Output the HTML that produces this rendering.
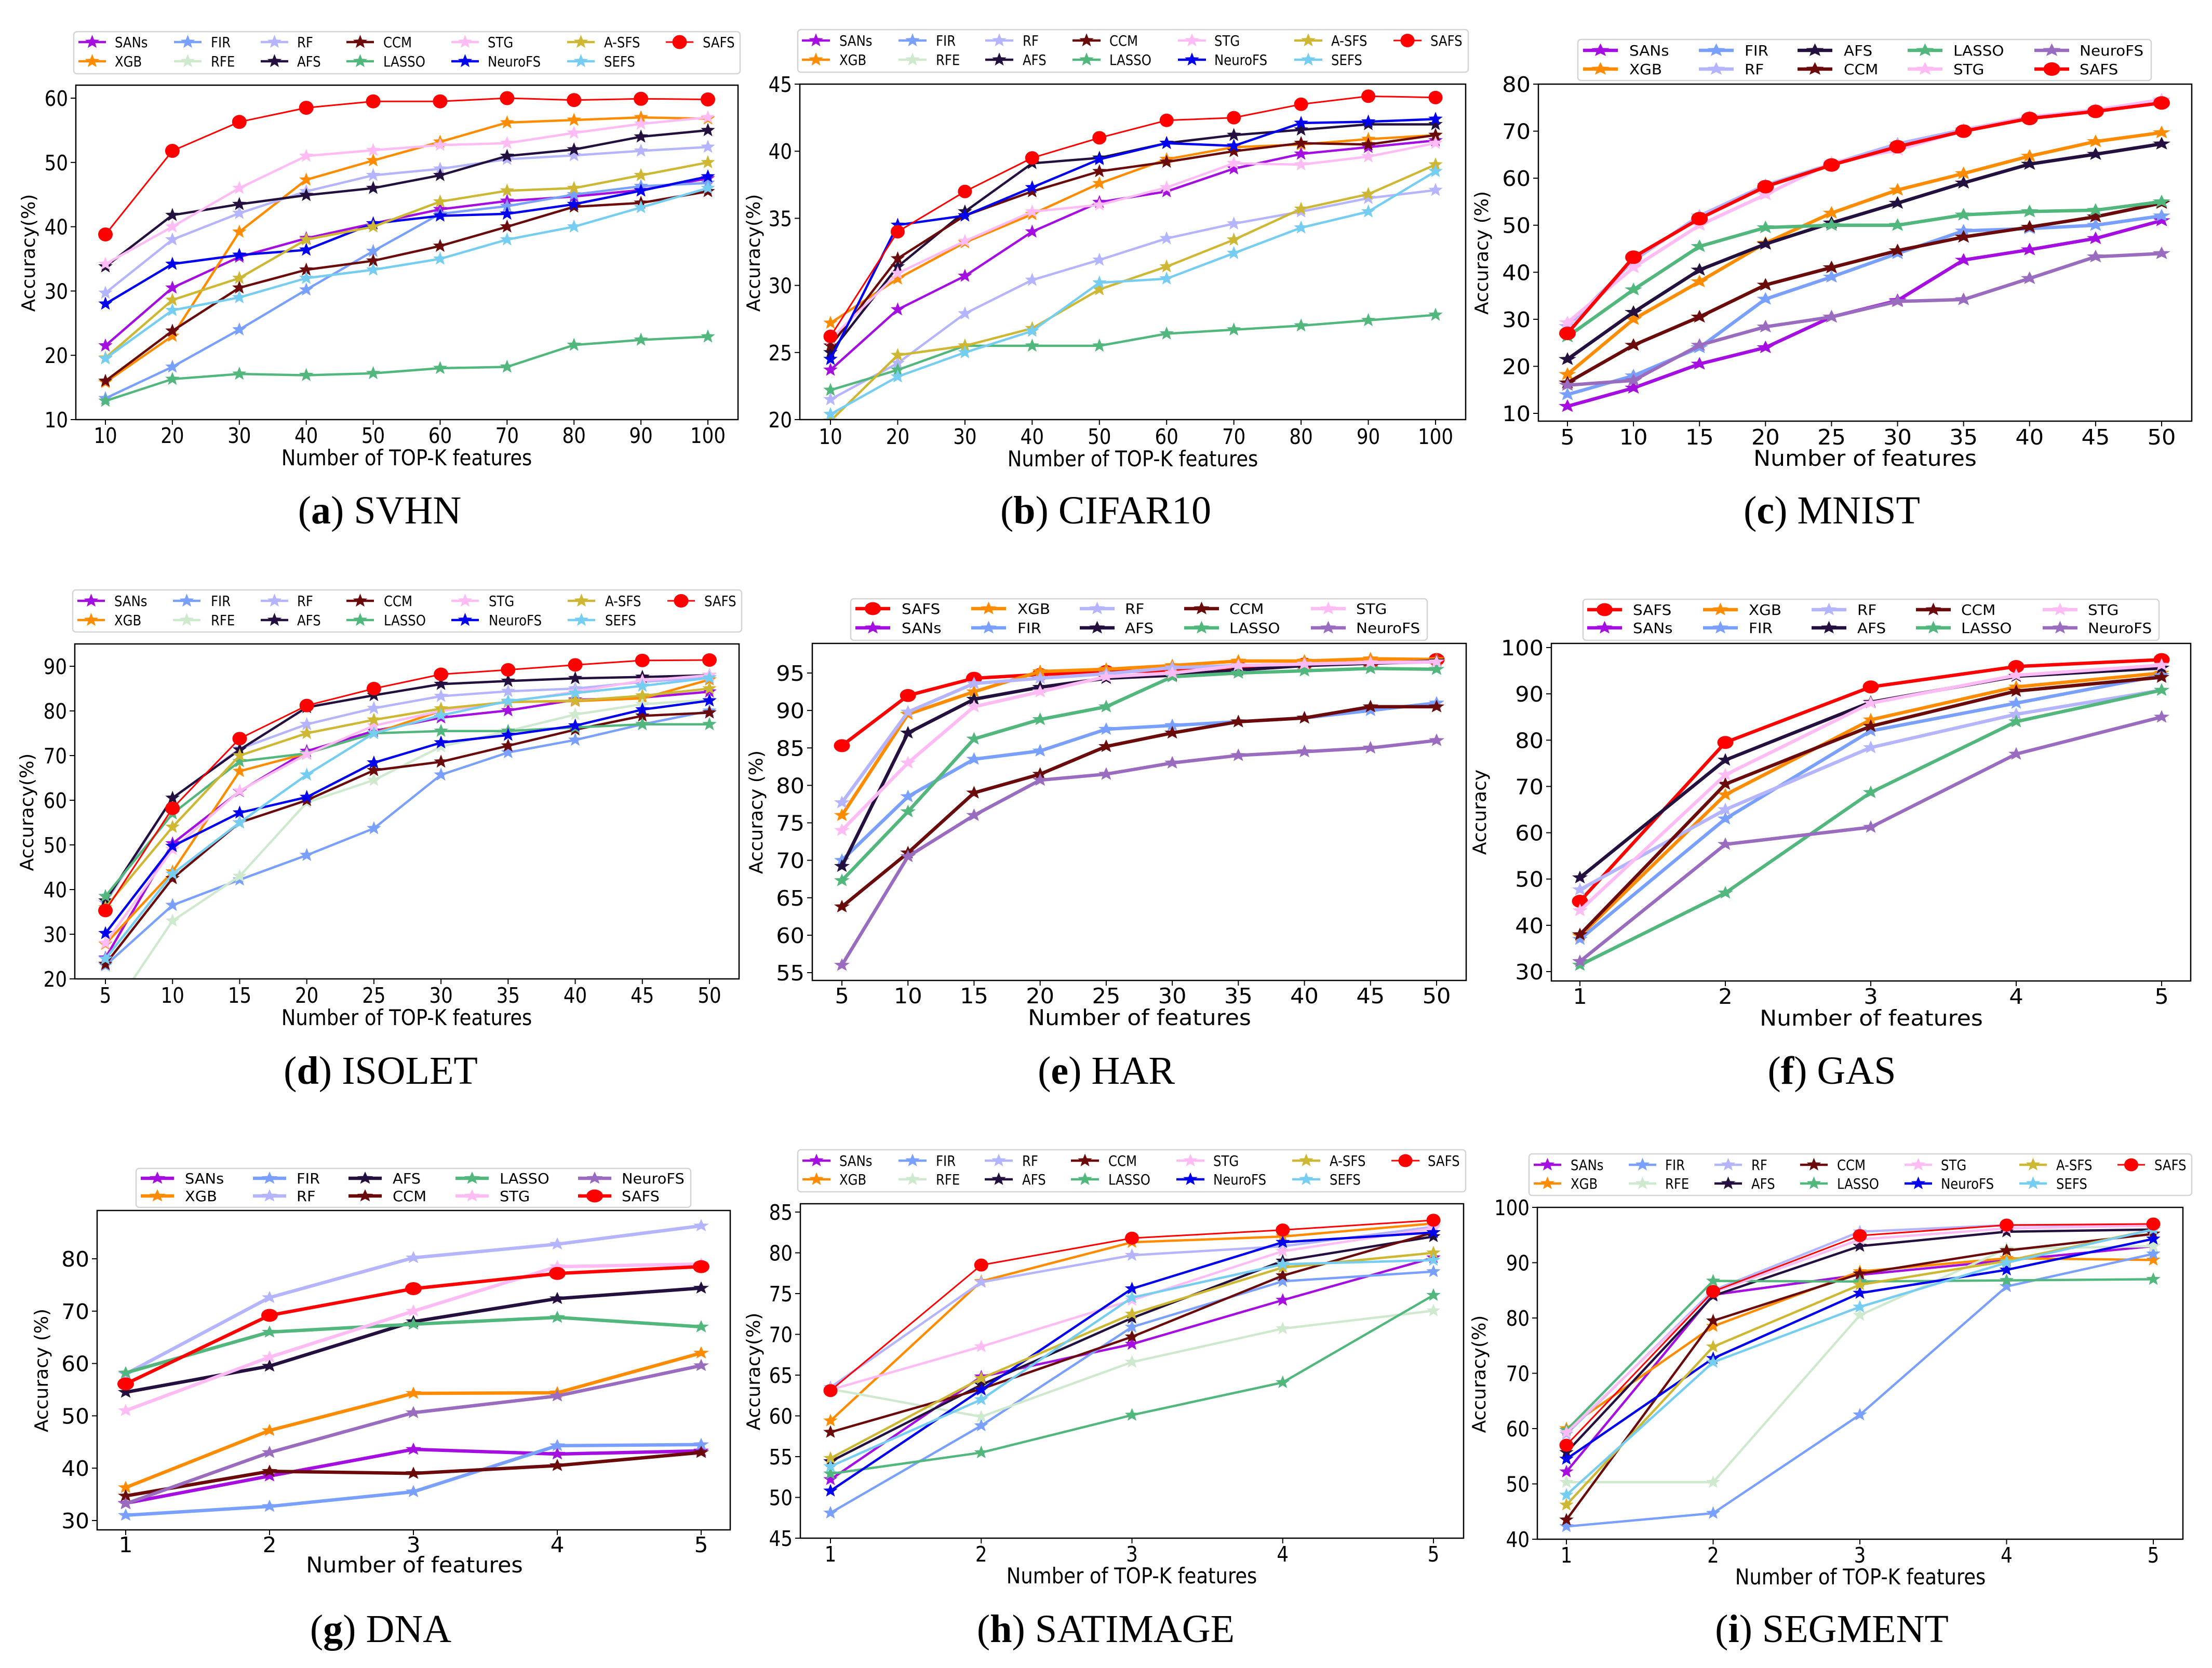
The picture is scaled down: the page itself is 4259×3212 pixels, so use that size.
<!DOCTYPE html>
<html>
<head>
<meta charset="utf-8">
<title>Accuracy versus number of features on nine datasets</title>
<style>
html,body{margin:0;padding:0;background:#fff;}
svg{display:block;}
text{font-family:"DejaVu Sans","Liberation Sans",sans-serif;fill:#000;}
.cap{font-family:"Liberation Serif",serif;font-size:76px;}
.ax{font-size:42px;}
.yl{font-size:36px;}
</style>
</head>
<body>
<svg id="figure" xmlns="http://www.w3.org/2000/svg" width="4259" height="3212" viewBox="0 0 4259 3212">
<rect x="0" y="0" width="4259" height="3212" fill="#fff"/>
<g id="plots"></g>
<text class="ax" text-anchor="middle" transform="translate(783,896) scale(.88,1)">Number of TOP-K features</text>
<text class="yl" text-anchor="middle" transform="translate(67,487) rotate(-90)">Accuracy(%)</text>
<text class="cap" text-anchor="middle" x="731" y="1008">(<tspan font-weight="bold">a</tspan>) SVHN</text>
<text class="ax" text-anchor="middle" transform="translate(2181,898) scale(.88,1)">Number of TOP-K features</text>
<text class="yl" text-anchor="middle" transform="translate(1463,487) rotate(-90)">Accuracy(%)</text>
<text class="cap" text-anchor="middle" x="2129" y="1008">(<tspan font-weight="bold">b</tspan>) CIFAR10</text>
<text class="ax" text-anchor="middle" transform="translate(3591,897) scale(1.05,1)">Number of features</text>
<text class="yl" text-anchor="middle" transform="translate(2865,487) rotate(-90)">Accuracy (%)</text>
<text class="cap" text-anchor="middle" x="3527" y="1008">(<tspan font-weight="bold">c</tspan>) MNIST</text>
<text class="ax" text-anchor="middle" transform="translate(783,1974) scale(.88,1)">Number of TOP-K features</text>
<text class="yl" text-anchor="middle" transform="translate(64,1564) rotate(-90)">Accuracy(%)</text>
<text class="cap" text-anchor="middle" x="733" y="2087">(<tspan font-weight="bold">d</tspan>) ISOLET</text>
<text class="ax" text-anchor="middle" transform="translate(2194,1974) scale(1.05,1)">Number of features</text>
<text class="yl" text-anchor="middle" transform="translate(1468,1564) rotate(-90)">Accuracy (%)</text>
<text class="cap" text-anchor="middle" x="2130" y="2087">(<tspan font-weight="bold">e</tspan>) HAR</text>
<text class="ax" text-anchor="middle" transform="translate(3603,1975) scale(1.05,1)">Number of features</text>
<text class="yl" text-anchor="middle" transform="translate(2861,1564) rotate(-90)">Accuracy</text>
<text class="cap" text-anchor="middle" x="3527" y="2087">(<tspan font-weight="bold">f</tspan>) GAS</text>
<text class="ax" text-anchor="middle" transform="translate(798,3028) scale(1.02,1)">Number of features</text>
<text class="yl" text-anchor="middle" transform="translate(92,2639) rotate(-90)">Accuracy (%)</text>
<text class="cap" text-anchor="middle" x="733" y="3162">(<tspan font-weight="bold">g</tspan>) DNA</text>
<text class="ax" text-anchor="middle" transform="translate(2179,3049) scale(.88,1)">Number of TOP-K features</text>
<text class="yl" text-anchor="middle" transform="translate(1463,2641) rotate(-90)">Accuracy(%)</text>
<text class="cap" text-anchor="middle" x="2129" y="3162">(<tspan font-weight="bold">h</tspan>) SATIMAGE</text>
<text class="ax" text-anchor="middle" transform="translate(3582,3051) scale(.88,1)">Number of TOP-K features</text>
<text class="yl" text-anchor="middle" transform="translate(2860,2646) rotate(-90)">Accuracy(%)</text>
<text class="cap" text-anchor="middle" x="3527" y="3162">(<tspan font-weight="bold">i</tspan>) SEGMENT</text>
</svg>
<script>
// ---------- shared categories ----------
const topK100 = [10,20,30,40,50,60,70,80,90,100];
const topK50 = [5,10,15,20,25,30,35,40,45,50];
const topK5 = [1,2,3,4,5];

// ---------- tick labels ----------
const svhnYTicks = [10,20,30,40,50,60];
const cifarYTicks = [20,25,30,35,40,45];
const mnistYTicks = [10,20,30,40,50,60,70,80];
const isoletYTicks = [20,30,40,50,60,70,80,90];
const harYTicks = [55,60,65,70,75,80,85,90,95];
const gasYTicks = [30,40,50,60,70,80,90,100];
const dnaYTicks = [30,40,50,60,70,80];
const satYTicks = [45,50,55,60,65,70,75,80,85];
const segYTicks = [40,50,60,70,80,90,100];

// ---------- legend entries ----------
const legendFull = ['SANs','XGB','FIR','RFE','RF','AFS','CCM','LASSO','STG','NeuroFS','A-SFS','SEFS','SAFS'];
const legendShort = ['SANs','XGB','FIR','RF','AFS','CCM','LASSO','STG','NeuroFS','SAFS'];
const legendSafsFirst = ['SAFS','SANs','XGB','FIR','RF','AFS','CCM','LASSO','STG','NeuroFS'];

// ---------- (a) SVHN ----------
const svhnSANs = [21.5,30.5,35.3,38.2,40.5,42.7,44,44.7,45.7,47.5];
const svhnXGB = [15.8,23,39.2,47.3,50.3,53.2,56.2,56.6,57,56.8];
const svhnFIR = [13.3,18.2,24,30.2,36.2,42,43.2,45,46.3,46.8];
const svhnRF = [29.7,38,42.1,45.5,48,49,50.5,51.1,51.8,52.4];
const svhnAFS = [33.8,41.8,43.5,44.9,46,48,51,52,54,55];
const svhnCCM = [16,23.8,30.5,33.3,34.7,37,40,43.1,43.7,45.5];
const svhnLASSO = [12.9,16.3,17.1,16.9,17.2,18,18.2,21.6,22.4,22.9];
const svhnSTG = [34.2,40,46,51,51.9,52.7,53,54.6,56,57];
const svhnNeuroFS = [28,34.2,35.6,36.4,40.5,41.7,42,43.5,45.6,47.8];
const svhnASFS = [19.6,28.6,32,38,40,43.9,45.6,46,48,50];
const svhnSEFS = [19.5,27,29,32,33.3,35,38,40,43,46];
const svhnSAFS = [38.8,51.8,56.3,58.5,59.5,59.5,60,59.7,59.9,59.8];

// ---------- (b) CIFAR10 ----------
const cifarSANs = [23.7,28.2,30.7,34,36.2,37,38.7,39.8,40.3,40.8];
const cifarXGB = [27.2,30.5,33.2,35.3,37.6,39.4,40.3,40.5,40.9,41.2];
const cifarRF = [21.5,24.2,27.9,30.4,31.9,33.5,34.6,35.5,36.5,37.1];
const cifarAFS = [25,31.4,35.5,39.1,39.5,40.6,41.2,41.6,42,42];
const cifarCCM = [25.5,32,35.2,37,38.5,39.2,40,40.6,40.5,41.2];
const cifarLASSO = [22.2,23.7,25.5,25.5,25.5,26.4,26.7,27,27.4,27.8];
const cifarSTG = [26,30.9,33.3,35.5,36,37.3,39.1,39,39.6,40.6];
const cifarNeuroFS = [24.5,34.5,35.2,37.3,39.4,40.6,40.4,42.1,42.2,42.4];
const cifarASFS = [19.9,24.8,25.5,26.8,29.7,31.4,33.4,35.7,36.8,39];
const cifarSEFS = [20.4,23.2,25,26.6,30.2,30.5,32.4,34.3,35.5,38.5];
const cifarSAFS = [26.2,34,37,39.5,41,42.3,42.5,43.5,44.1,44];

// ---------- (c) MNIST ----------
const mnistSANs = [11.5,15.4,20.5,24,30.5,34,42.6,44.8,47.2,51];
const mnistXGB = [18.3,30,38,46.2,52.6,57.5,61,64.7,67.8,69.7];
const mnistFIR = [14,18,24,34.3,39,44,48.8,49.3,50,52];
const mnistRF = [28.5,42.5,52,58.5,63,67.3,70.3,73,74.5,76.5];
const mnistAFS = [21.5,31.5,40.5,46,50.5,54.7,59,63,65.1,67.3];
const mnistCCM = [16.5,24.5,30.5,37.3,41,44.6,47.5,49.6,51.8,54.7];
const mnistLASSO = [26.3,36.3,45.5,49.5,50,50,52.2,52.9,53.2,55];
const mnistSTG = [29.3,41,50,56.5,63.3,66,70.2,73,74.5,76.7];
const mnistNeuroFS = [16,17,24.5,28.4,30.5,33.8,34.2,38.7,43.3,44];
const mnistSAFS = [27,43.2,51.4,58.2,62.8,66.7,70,72.7,74.2,76];

// ---------- (d) ISOLET ----------
const isoletSANs = [24.7,50.3,62,71,75.5,78.5,80.1,82.5,83,84.3];
const isoletXGB = [27.8,44,66.5,70.5,75,80,82,82.2,82.8,87];
const isoletFIR = [23,36.5,42.2,47.7,53.7,65.7,70.7,73.5,77,80];
const isoletRFE = [10.7,33,43,59.5,64.5,72,75.5,79.2,81.5,82.5];
const isoletRF = [37,60.5,71.5,77,80.6,83.3,84.4,85,86.5,87.5];
const isoletAFS = [37.5,60.5,71.3,80.8,83.5,86,86.7,87.3,87.6,88];
const isoletCCM = [23.3,42.5,55,60,66.7,68.6,72.2,75.8,78.9,79.6];
const isoletLASSO = [38.5,57,68.7,70.5,75,75.5,75.5,76.3,77,77];
const isoletSTG = [28,49,62.1,70.3,76.7,80,82,84.3,86.8,88];
const isoletNeuroFS = [30.2,49.7,57.2,60.7,68.4,72.9,74.6,76.7,80.3,82.3];
const isoletASFS = [36,54,70,75,78,80.5,82,82.3,83.4,85];
const isoletSEFS = [24.5,43.5,55,65.7,75,79,82.2,84,85.6,87.4];
const isoletSAFS = [35.3,58.2,73.8,81.2,85,88.2,89.2,90.3,91.3,91.4];

// ---------- (e) HAR ----------
const harSAFS = [85.3,92,94.3,94.8,95.2,95.3,95.8,96.2,96.4,96.8];
const harXGB = [76,89.5,92.5,95.2,95.5,96,96.6,96.6,96.9,96.8];
const harFIR = [70,78.5,83.5,84.6,87.5,88,88.5,89,90,91];
const harRF = [77.7,89.8,93.6,94.3,94.9,95.7,96,96.2,96.3,96.5];
const harAFS = [69.2,87,91.5,93.1,94.3,94.7,95.4,96,96.3,96.6];
const harCCM = [63.8,71,79,81.5,85.2,87,88.5,89,90.5,90.5];
const harLASSO = [67.3,76.5,86.2,88.8,90.5,94.5,95,95.3,95.6,95.5];
const harSTG = [74,83,90.5,92.5,94.5,95,96,96.2,96.4,96.5];
const harNeuroFS = [56,70.5,76,80.7,81.5,83,84,84.5,85,86];

// ---------- (f) GAS ----------
const gasSAFS = [45.2,79.5,91.5,95.9,97.4];
const gasXGB = [37.7,68.2,84.4,91.5,94.5];
const gasFIR = [37,63,82,88,94];
const gasRF = [47.7,65,78.4,85.6,90.8];
const gasAFS = [50.3,75.7,88.2,93.8,95.6];
const gasCCM = [38,70.5,83,90.6,93.6];
const gasLASSO = [31.4,47,68.7,84,90.8];
const gasSTG = [43.2,72.5,88,94,96.2];
const gasNeuroFS = [32.2,57.5,61.2,77,85];

// ---------- (g) DNA ----------
const dnaSANs = [33.3,38.5,43.6,42.7,43.3];
const dnaXGB = [36.3,47.2,54.3,54.4,62];
const dnaFIR = [31,32.7,35.5,44.3,44.5];
const dnaRF = [58,72.6,80.2,82.8,86.3];
const dnaAFS = [54.5,59.5,68,72.4,74.4];
const dnaCCM = [34.7,39.4,39,40.5,43];
const dnaLASSO = [58.2,66,67.5,68.8,67];
const dnaSTG = [51,61.2,70,78.5,79];
const dnaNeuroFS = [33.2,43,50.6,53.8,59.6];
const dnaSAFS = [56.1,69.2,74.3,77.2,78.5];

// ---------- (h) SATIMAGE ----------
const satSANs = [52.2,64.8,68.8,74.2,79.4];
const satXGB = [59.4,76.5,81.3,82,83.6];
const satFIR = [48.1,58.8,70.9,76.5,77.7];
const satRFE = [63.3,59.9,66.6,70.7,72.9];
const satRF = [63.5,76.4,79.7,80.8,83.2];
const satAFS = [54.4,63.8,72,79,82];
const satCCM = [58,63.3,69.7,77.2,82.5];
const satLASSO = [52.9,55.5,60.1,64.1,74.8];
const satSTG = [63.2,68.5,74.2,80.2,83];
const satNeuroFS = [50.8,63.2,75.6,81.3,82.5];
const satASFS = [54.8,64.6,72.5,78.2,80];
const satSEFS = [53.8,62,74.5,78.6,79.1];
const satSAFS = [63.1,78.5,81.8,82.8,84];

// ---------- (i) SEGMENT ----------
const segSANs = [52.2,84.2,87.8,90.4,93];
const segXGB = [60,78.5,88.4,90.8,90.5];
const segFIR = [42.3,44.7,62.5,85.7,91.6];
const segRFE = [50.3,50.3,80.5,92.5,93];
const segRF = [59,85,95.6,96.8,96.7];
const segAFS = [55.7,84,93,95.6,96];
const segCCM = [43.5,79.5,88,92.2,95.2];
const segLASSO = [59.7,86.7,86.6,86.8,87];
const segSTG = [59.3,84.6,94.2,96.2,96.7];
const segNeuroFS = [54.5,72.7,84.5,88.7,94.3];
const segASFS = [46.2,74.8,86,90.3,96];
const segSEFS = [48,72,82,90,96];
const segSAFS = [57,84.8,94.9,96.8,97];

// ---------- styling ----------
const seriesColors = {SANs:'#a50ee0',XGB:'#ff8c00',FIR:'#7aa0ff',RFE:'#cfe9cf',RF:'#b4b4ff',AFS:'#24103f',CCM:'#6b0a0a',LASSO:'#52b77c',STG:'#ffbbf4','A-SFS':'#cdb733',SEFS:'#76cdf2',SAFS:'#ff0000'};
const BLUE = '#0000ee';
const PURPLE = '#9a6cc0';

// ---------- panel layout ----------
const panels = [
 {id:'svhn',cats:topK100,ticks:svhnYTicks,box:[146,164,1421,808],xp:[203,1363],yp:[808,189],tickY:838,sx:.87,lw:4.5,redLw:3,star:[14.5,14],dot:[14,13.5],neuro:BLUE,
  legend:legendFull,lbox:[142,61,1425,142],rows:[81,118],hx:[151,335,502,667,869,1092,1282],tx:[221,406,572,738,939,1163,1353],hl:53,
  data:{SANs:svhnSANs,XGB:svhnXGB,FIR:svhnFIR,RF:svhnRF,AFS:svhnAFS,CCM:svhnCCM,LASSO:svhnLASSO,STG:svhnSTG,NeuroFS:svhnNeuroFS,'A-SFS':svhnASFS,SEFS:svhnSEFS,SAFS:svhnSAFS}},
 {id:'cifar10',cats:topK100,ticks:cifarYTicks,box:[1540,162,2822,808],xp:[1599,2764],yp:[808,162],tickY:840,sx:.87,lw:4.5,redLw:3,star:[14.5,14],dot:[13.5,13],neuro:BLUE,
  legend:legendFull,lbox:[1536,57,2827,139],rows:[78,115],hx:[1544,1730,1897,2065,2268,2492,2683],tx:[1616,1802,1969,2136,2338,2563,2754],hl:54,
  data:{SANs:cifarSANs,XGB:cifarXGB,RF:cifarRF,AFS:cifarAFS,CCM:cifarCCM,LASSO:cifarLASSO,STG:cifarSTG,NeuroFS:cifarNeuroFS,'A-SFS':cifarASFS,SEFS:cifarSEFS,SAFS:cifarSAFS}},
 {id:'mnist',cats:topK50,ticks:mnistYTicks,box:[2962,162,4220,811],xp:[3018,4162],yp:[796,162],tickY:841,sx:1.05,lw:6.5,redLw:6.5,star:[18,13.5],dot:[16,13],neuro:PURPLE,
  legend:legendShort,lbox:[3038,76,4142,155],rows:[97,133],hx:[3048,3271,3461,3673,3917],tx:[3137,3359,3550,3761,4004],hl:67,
  data:{SANs:mnistSANs,XGB:mnistXGB,FIR:mnistFIR,RF:mnistRF,AFS:mnistAFS,CCM:mnistCCM,LASSO:mnistLASSO,STG:mnistSTG,NeuroFS:mnistNeuroFS,SAFS:mnistSAFS}},
 {id:'isolet',cats:topK50,ticks:isoletYTicks,box:[144,1240,1423,1885],xp:[203,1366],yp:[1885,1283],tickY:1916,sx:.87,lw:4.5,redLw:3,star:[14.5,14],dot:[14,13],neuro:BLUE,
  legend:legendFull,lbox:[140,1136,1428,1217],rows:[1157,1194],hx:[149,333,502,667,869,1093,1285],tx:[220,406,572,739,941,1165,1356],hl:53,
  data:{SANs:isoletSANs,XGB:isoletXGB,FIR:isoletFIR,RFE:isoletRFE,RF:isoletRF,AFS:isoletAFS,CCM:isoletCCM,LASSO:isoletLASSO,STG:isoletSTG,NeuroFS:isoletNeuroFS,'A-SFS':isoletASFS,SEFS:isoletSEFS,SAFS:isoletSAFS}},
 {id:'har',cats:topK50,ticks:harYTicks,box:[1564,1239,2823,1888],xp:[1621,2766],yp:[1873,1296],tickY:1917,sx:1.05,lw:6.5,redLw:6.5,star:[16,13.5],dot:[15.5,12.5],neuro:PURPLE,
  legend:legendSafsFirst,lbox:[1638,1153,2748,1233],rows:[1172,1209],hx:[1647,1870,2079,2280,2524],tx:[1736,1959,2166,2367,2611],hl:67,
  data:{SAFS:harSAFS,XGB:harXGB,FIR:harFIR,RF:harRF,AFS:harAFS,CCM:harCCM,LASSO:harLASSO,STG:harSTG,NeuroFS:harNeuroFS}},
 {id:'gas',cats:topK5,ticks:gasYTicks,box:[2987,1239,4218,1889],xp:[3042,4162],yp:[1871,1247],tickY:1918,sx:1.05,lw:6.5,redLw:6.5,star:[16,13.5],dot:[15.5,12.5],neuro:PURPLE,
  legend:legendSafsFirst,lbox:[3048,1154,4157,1233],rows:[1174,1209],hx:[3056,3279,3488,3689,3933],tx:[3144,3367,3576,3776,4020],hl:67,
  data:{SAFS:gasSAFS,XGB:gasXGB,FIR:gasFIR,RF:gasRF,AFS:gasAFS,CCM:gasCCM,LASSO:gasLASSO,STG:gasSTG,NeuroFS:gasNeuroFS}},
 {id:'dna',cats:topK5,ticks:dnaYTicks,box:[187,2331,1406,2946],xp:[242,1350],yp:[2928,2424],tickY:2974,sx:1.03,lw:6.5,redLw:6.5,star:[16,13],dot:[16,12.5],neuro:PURPLE,
  legend:legendShort,lbox:[262,2250,1330,2325],rows:[2269,2303],hx:[271,487,671,877,1113],tx:[356,571,756,962,1197],hl:64,
  data:{SANs:dnaSANs,XGB:dnaXGB,FIR:dnaFIR,RF:dnaRF,AFS:dnaAFS,CCM:dnaCCM,LASSO:dnaLASSO,STG:dnaSTG,NeuroFS:dnaNeuroFS,SAFS:dnaSAFS}},
 {id:'satimage',cats:topK5,ticks:satYTicks,box:[1541,2318,2818,2962],xp:[1599,2760],yp:[2962,2334],tickY:2992,sx:.87,lw:4.5,redLw:3,star:[14.5,13.5],dot:[13.5,12.5],neuro:BLUE,
  legend:legendFull,lbox:[1536,2214,2822,2295],rows:[2235,2271],hx:[1545,1730,1896,2062,2265,2488,2679],tx:[1616,1802,1968,2134,2336,2560,2749],hl:54,
  data:{SANs:satSANs,XGB:satXGB,FIR:satFIR,RFE:satRFE,RF:satRF,AFS:satAFS,CCM:satCCM,LASSO:satLASSO,STG:satSTG,NeuroFS:satNeuroFS,'A-SFS':satASFS,SEFS:satSEFS,SAFS:satSAFS}},
 {id:'segment',cats:topK5,ticks:segYTicks,box:[2960,2325,4203,2964],xp:[3016,4146],yp:[2964,2325],tickY:2994,sx:.87,lw:4.5,redLw:3,star:[14.5,13.5],dot:[13.5,12.5],neuro:BLUE,
  legend:legendFull,lbox:[2944,2222,4220,2302],rows:[2243,2279],hx:[2953,3136,3301,3466,3667,3888,4077],tx:[3024,3206,3372,3537,3737,3959,4148],hl:53,
  data:{SANs:segSANs,XGB:segXGB,FIR:segFIR,RFE:segRFE,RF:segRF,AFS:segAFS,CCM:segCCM,LASSO:segLASSO,STG:segSTG,NeuroFS:segNeuroFS,'A-SFS':segASFS,SEFS:segSEFS,SAFS:segSAFS}}
];

const NS = 'http://www.w3.org/2000/svg';
const root = document.getElementById('plots');

function node(tag, parent, attrs) {
  const el = document.createElementNS(NS, tag);
  for (const k in attrs) el.setAttribute(k, attrs[k]);
  parent.appendChild(el);
  return el;
}

function starPoints(cx, cy, rx, ry) {
  const pts = [];
  for (let i = 0; i < 10; i++) {
    const a = -Math.PI / 2 + i * Math.PI / 5;
    const k = i % 2 ? 0.42 : 1;
    pts.push((cx + Math.cos(a) * rx * k).toFixed(1) + ',' + (cy + Math.sin(a) * ry * k).toFixed(1));
  }
  return pts.join(' ');
}

function colorOf(p, name) {
  return name === 'NeuroFS' ? p.neuro : seriesColors[name];
}

function drawMarker(p, parent, name, cx, cy, markName) {
  const color = colorOf(p, name);
  let m;
  if (name === 'SAFS') {
    m = node('ellipse', parent, {cx: cx, cy: cy, rx: p.dot[0], ry: p.dot[1], fill: color});
  } else {
    m = node('polygon', parent, {points: starPoints(cx, cy, p.star[0], p.star[1]), fill: color});
  }
  
  
}

function label(parent, str, x, y, size, anchor, sx, labelName) {
  const t = node('text', parent, {transform: 'translate(' + x + ',' + y + ') scale(' + sx + ',1)', 'font-size': size, 'text-anchor': anchor});
  t.textContent = str;
  
  
}

panels.forEach(function (p) {
  const [bx0, by0, bx1, by1] = p.box;
  const v0 = p.cats[0], v1 = p.cats[p.cats.length - 1];
  const t0 = p.ticks[0], t1 = p.ticks[p.ticks.length - 1];
  const xScale = function (v) { return p.xp[0] + (v - v0) / (v1 - v0) * (p.xp[1] - p.xp[0]); };
  const yScale = function (v) { return p.yp[0] + (v - t0) / (t1 - t0) * (p.yp[1] - p.yp[0]); };

  const g = node('g', root, {});
  
  

  const cp = node('clipPath', g, {id: 'clip-' + p.id});
  node('rect', cp, {x: bx0, y: by0, width: bx1 - bx0, height: by1 - by0});

  // ticks
  const xAxis = node('g', g, {});
  
  
  p.cats.forEach(function (c) {
    const x = xScale(c);
    node('line', xAxis, {x1: x, x2: x, y1: by1, y2: by1 + 10, stroke: '#000', 'stroke-width': 2});
    label(xAxis, String(c), x, p.tickY + 15, 41, 'middle', p.sx, p.id + '-x-tick-' + c);
  });
  const yAxis = node('g', g, {});
  
  
  p.ticks.forEach(function (c) {
    const y = yScale(c);
    node('line', yAxis, {x1: bx0 - 10, x2: bx0, y1: y, y2: y, stroke: '#000', 'stroke-width': 2});
    label(yAxis, String(c), bx0 - 15, y + 15, 41, 'end', p.sx, p.id + '-y-tick-' + c);
  });

  // series, drawn in legend order
  const plot = node('g', g, {'clip-path': 'url(#clip-' + p.id + ')'});
  
  
  p.legend.forEach(function (name) {
    const vals = p.data[name];
    if (!vals) return;
    const sg = node('g', plot, {});
    
    
    const pts = vals.map(function (v, i) { return xScale(p.cats[i]).toFixed(1) + ',' + yScale(v).toFixed(1); }).join(' ');
    const line = node('polyline', sg, {points: pts, fill: 'none', stroke: colorOf(p, name), 'stroke-width': name === 'SAFS' ? p.redLw : p.lw, 'stroke-linejoin': 'round'});
    
    
    vals.forEach(function (v, i) {
      drawMarker(p, sg, name, xScale(p.cats[i]), yScale(v), p.id + '-point-' + name.toLowerCase() + '-' + p.cats[i]);
    });
  });

  // axes frame
  const frame = node('rect', g, {x: bx0, y: by0, width: bx1 - bx0, height: by1 - by0, fill: 'none', stroke: '#000', 'stroke-width': 2.5});
  
  

  // legend
  const lg = node('g', g, {});
  
  
  const [lx0, ly0, lx1, ly1] = p.lbox;
  node('rect', lg, {x: lx0, y: ly0, width: lx1 - lx0, height: ly1 - ly0, rx: 6, ry: 6, fill: '#fff', stroke: '#d4d4d4', 'stroke-width': 2.5});
  p.legend.forEach(function (name, i) {
    let col, row;
    if (i === p.legend.length - 1 && p.hx.length === 7) { col = 6; row = 0; }
    else { col = Math.floor(i / 2); row = i % 2; }
    const y = p.rows[row], hx = p.hx[col];
    const entry = node('g', lg, {});
    
    
    node('line', entry, {x1: hx, x2: hx + p.hl, y1: y, y2: y, stroke: colorOf(p, name), 'stroke-width': name === 'SAFS' ? p.redLw : p.lw});
    drawMarker(p, entry, name, hx + p.hl / 2, y, p.id + '-legend-marker-' + name.toLowerCase());
    label(entry, name, p.tx[col], y + 10, 28, 'start', p.sx, p.id + '-legend-label-' + name.toLowerCase());
  });
});
</script>
</body>
</html>
